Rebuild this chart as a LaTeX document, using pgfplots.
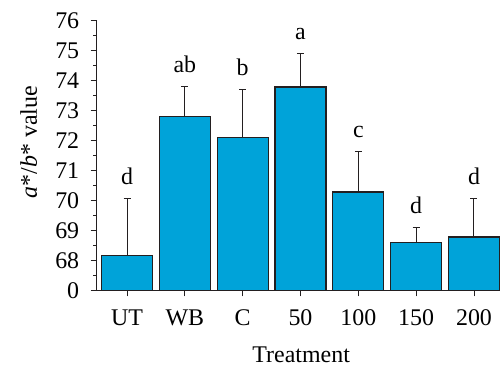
\documentclass[border=0pt]{standalone}
\usepackage{pgfplots}
\pgfplotsset{compat=1.18}
\usepackage{fontspec}
\setmainfont{Liberation Serif}
\definecolor{barblue}{HTML}{00A3D9}
\definecolor{edge}{HTML}{231F20}
\begin{document}
\begin{tikzpicture}
\begin{axis}[
  at={(0,0)}, anchor=south west,
  scale only axis, width=403.3bp, height=269.6bp,
  xmin=-0.524, xmax=6.45,
  ymin=67, ymax=76,
  axis lines*=left,
  axis line style={edge, line width=0.9bp},
  ybar, bar width=0.88,
  xtick={0,...,6},
  xticklabels={UT,WB,C,50,100,150,200},
  ytick={67,68,...,76},
  yticklabels={0,68,69,70,71,72,73,74,75,76},
  minor y tick num=1,
  tick align=outside,
  major tick length=6bp, minor tick length=3.5bp,
  tick style={edge, line width=0.8bp},
  /pgf/number format/assume math mode=true,
  ticklabel style={font=\fontsize{24}{28}\selectfont},
  xticklabel style={anchor=base, yshift=-29bp},
  yticklabel style={xshift=-8bp},
  xlabel={Treatment},
  ylabel={\textit{a}*/\textit{b}* value},
  every axis x label/.style={at={(axis description cs:0.507,0)}, anchor=base, yshift=-71.7bp, font=\fontsize{24}{28}\selectfont},
  every axis y label/.style={at={(axis description cs:0,0.55)}, anchor=center, rotate=90, yshift=68bp, font=\fontsize{24}{28}\selectfont},
  clip=false,
]
\addplot[ybar, fill=barblue, draw=edge, line width=1.2bp, bar shift=0pt,
  error bars/.cd, y dir=plus, y explicit, error mark=|,
  error bar style={edge, line width=1bp},
  error mark options={draw=edge, line width=1bp, mark size=3.5bp}]
  table[x=x, y=y, y error=e] {
x y e
0 68.17 1.88
1 72.80 0.99
2 72.11 1.58
3 73.79 1.12
4 70.28 1.35
5 68.59 0.51
6 68.78 1.27
};
\begin{scope}[every node/.style={anchor=base, yshift=14bp, font=\fontsize{24}{28}\selectfont, inner sep=0pt}]
\node at (axis cs:0,70.05) {d};
\node at (axis cs:1,73.79) {ab};
\node at (axis cs:2,73.69) {b};
\node at (axis cs:3,74.91) {a};
\node at (axis cs:4,71.63) {c};
\node at (axis cs:5,69.10) {d};
\node at (axis cs:6,70.05) {d};
\end{scope}
\end{axis}
\pgfresetboundingbox
\path[use as bounding box] (-96.7bp,-78.7bp) rectangle (403.3bp,290.3bp);
\end{tikzpicture}
\end{document}
